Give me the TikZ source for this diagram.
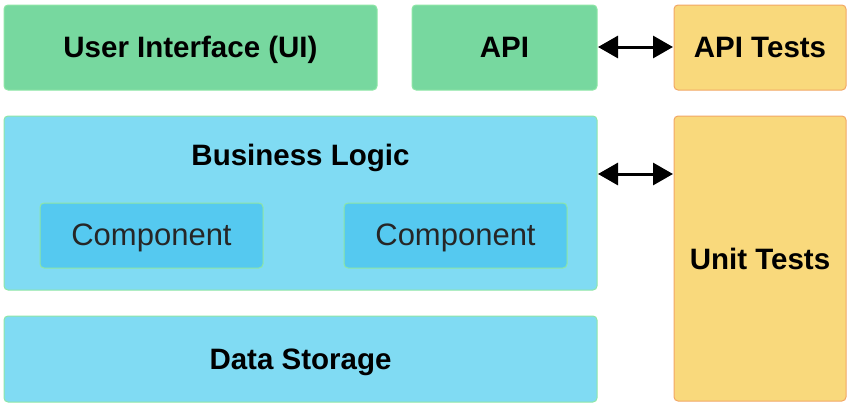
\documentclass[tikz,border=0pt]{standalone}
\usepackage{fontspec}
\setmainfont{Liberation Sans}
\usetikzlibrary{arrows.meta}
\definecolor{greenfill}{HTML}{77D89F}
\definecolor{greenline}{HTML}{8EE6A6}
\definecolor{bluefill}{HTML}{80DBF3}
\definecolor{compfill}{HTML}{55C9F0}
\definecolor{yellowfill}{HTML}{F9D97C}
\definecolor{orangeline}{HTML}{F2A765}
\tikzset{
  bigtip/.tip={Triangle[length=20pt,width=22pt]},
  boxbase/.style={rounded corners=4pt, line width=1pt},
  greenbox/.style={boxbase, fill=greenfill, draw=greenline},
  bluebox/.style={boxbase, fill=bluefill, draw=greenline},
  compbox/.style={boxbase, fill=compfill, draw=greenline},
  yellowbox/.style={boxbase, fill=yellowfill, draw=orangeline},
  lbl/.style={anchor=base, inner sep=0pt, font=\fontsize{29.5}{34}\selectfont\bfseries, text=black},
  clbl/.style={anchor=base, inner sep=0pt, font=\fontsize{31}{36}\selectfont, text=black!85},
  dblarrow/.style={bigtip-bigtip, line width=3pt, black},
}
\begin{document}
\begin{tikzpicture}[x=1pt,y=-1pt]
\useasboundingbox (0,0) rectangle (851,407);
% boxes
\draw[greenbox] (4,5) rectangle (377,90);
\node[lbl] (ui) at (190.5,57.5) {User Interface (UI)};
\draw[greenbox] (412,5) rectangle (597,90);
\coordinate (apiR) at (597,47);
\node[lbl] (api) at (504.5,57.5) {API};
\draw[yellowbox] (674,5) rectangle (846,90);
\coordinate (apitL) at (674,47);
\node[lbl] (apit) at (760,57.5) {API Tests};
\draw[bluebox] (4,116) rectangle (597,290);
\coordinate (blR) at (597,174);
\node[lbl] (bl) at (300.5,165) {Business Logic};
\draw[compbox] (40,203) rectangle (263,268);
\node[clbl] (c1) at (151.5,245) {Component};
\draw[compbox] (344,203) rectangle (567,268);
\node[clbl] (c2) at (455.5,245) {Component};
\draw[yellowbox] (674,116) rectangle (846,401);
\coordinate (utL) at (674,174);
\node[lbl] (ut) at (760,269) {Unit Tests};
\draw[bluebox] (4,316) rectangle (597,402);
\node[lbl] (ds) at (300.5,369) {Data Storage};
% arrows
\path (apiR) ++(1,0) coordinate (a1) (apitL) ++(-1,0) coordinate (a2);
\draw[dblarrow] (a1) -- (a2);
\path (blR) ++(1,0) coordinate (b1) (utL) ++(-1,0) coordinate (b2);
\draw[dblarrow] (b1) -- (b2);
\end{tikzpicture}
\end{document}
